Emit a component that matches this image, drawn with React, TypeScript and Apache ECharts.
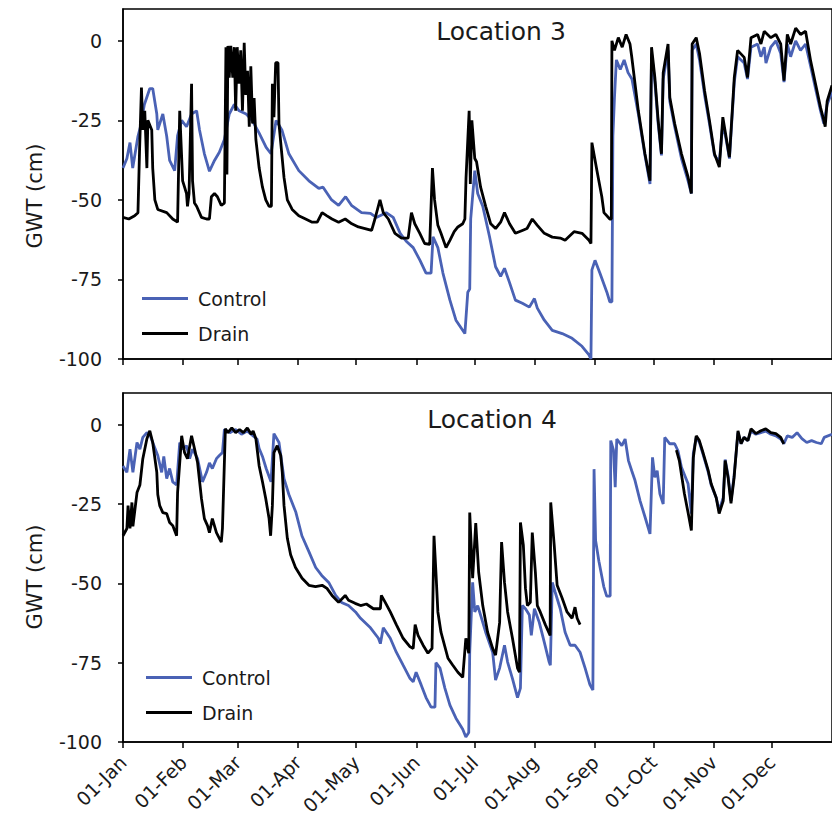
import React, { useEffect, useRef } from 'react';
import * as echarts from 'echarts';

const monthDays = [0, 31, 59, 90, 120, 151, 181, 212, 243, 273, 304, 334];
const monthLabels = ['01-Jan', '01-Feb', '01-Mar', '01-Apr', '01-May', '01-Jun', '01-Jul', '01-Aug', '01-Sep', '01-Oct', '01-Nov', '01-Dec'];
const yTicks = [-100, -75, -50, -25, 0];
const panelTitles = ['Location 3', 'Location 4'];
const seriesNames = ['Control', 'Drain'];
const yAxisTitle = 'GWT (cm)';

const loc3Control = [
  [0, -40], [2, -37], [3.6, -32], [5, -40], [7.7, -30], [9, -27], [11, -20], [13.8, -15], [15.3, -15], [17.4, -23], [17.9, -28],
  [20.5, -23], [22.5, -30], [24, -37.6], [26.6, -40.8], [28.1, -29.8], [30.2, -25], [32.7, -27], [35.3, -23], [37.9, -22], [39.4, -28],
  [41.9, -35.5], [44.5, -41], [47.1, -37.6], [49.6, -35], [52.2, -31], [54.7, -23], [57.3, -20], [59.8, -22], [63.4, -23], [66.5, -25],
  [70.1, -29], [73.7, -33.5], [76.2, -35.5], [78.8, -25], [81.8, -28], [85.4, -35.5], [90.5, -40.8], [95.7, -44], [100.8, -46.4],
  [103, -46], [107.4, -50], [111, -51.7], [114.6, -49], [117.6, -51.7], [122.8, -54], [127.4, -54.2], [130.4, -55.5], [135.5, -54],
  [139.1, -55.5], [142.7, -60.5], [145.8, -63], [149.4, -65], [152.9, -69], [156, -73], [158.6, -73], [159.6, -61.6], [162.1, -65],
  [164.7, -73], [168.3, -81.5], [171.4, -87.8], [176, -92], [177.5, -79], [178.5, -78], [179, -56], [181.1, -40.8], [182.6, -48],
  [185.2, -52], [188.7, -61.6], [191.8, -71], [194.4, -74], [196.4, -71.5], [199, -76], [202, -81.5], [205.6, -82.5], [209.2, -83.7],
  [211.8, -81], [213.3, -84], [216.9, -87.8], [221, -91], [226.1, -92], [231.2, -93.5], [236.3, -96], [239.9, -98.7], [240.9, -100],
  [241.4, -72], [243, -69], [245.5, -73], [249.1, -79], [250.6, -82], [251.7, -82], [252.2, -30], [253, -18], [254, -6], [256, -9],
  [258, -6], [260, -10], [262, -12], [265.3, -23], [268.7, -36], [271.3, -45], [272.1, -4], [273.8, -13], [275.5, -26], [277.2, -36],
  [278.1, -12], [280.6, -3], [281.5, -19], [284, -27], [287.5, -37], [290.9, -44], [292.6, -48], [293, -3], [295.1, -1], [296.8, -6],
  [299.4, -17], [301.9, -26], [304.5, -36], [307, -38], [308.8, -26], [310.5, -31], [312.2, -37], [314.7, -13], [316.4, -5],
  [319.8, -7], [321.5, -12], [323.3, -2], [326.7, -1], [328.4, -5], [330.1, -2], [331, -7], [333.5, -2], [336.1, 0], [338.6, -4],
  [340.3, -13], [342, -1], [343.7, -5], [346.3, 0], [348.8, -3], [351.4, -1], [354, -8], [356.5, -15], [359.1, -22], [360.8, -26],
  [362.5, -20], [365, -16],
];

const loc3Drain = [
  [0, -55.5], [3, -56], [6, -55], [7.7, -54], [8.5, -35], [9.5, -14.7], [10.2, -28], [11.2, -22], [12.3, -40], [12.8, -25],
  [14.8, -28], [15.3, -40], [16.4, -50], [17.9, -53], [22.5, -54], [25.6, -56], [28.1, -57], [29.2, -22], [30.7, -44], [31.7, -46],
  [32.7, -48], [33.2, -52], [34, -48], [35.3, -13.5], [35.8, -44], [36.8, -51], [37.9, -52], [40.4, -55.5], [43, -56], [44.5, -56],
  [45.5, -49], [47.1, -48], [48.6, -49], [50.6, -51.7], [52.2, -51], [53, -2], [53.5, -42], [54, -1.6], [54.7, -11.6], [55.5, -1.6],
  [56.5, -11.6], [57.3, -2], [58, -22], [58.8, -2], [59.8, -13.5], [60.6, -3], [61.5, -22], [62.4, -0.6], [63.2, -17], [64.1, -9.4],
  [65, -27], [65.8, -8], [66.7, -26], [67.5, -18], [68.4, -31], [70.1, -40], [71.8, -46], [73.5, -50], [75.2, -52], [76.4, -52],
  [76.9, -13.5], [77.7, -24], [78.6, -6.9], [79.8, -6.9], [80.3, -26], [81.2, -32], [82.9, -43], [84.6, -50], [87.1, -53],
  [90.5, -55], [94, -56], [97.4, -57], [100, -57], [102.5, -54], [105, -55], [107.6, -56], [111, -57], [114.4, -56], [117.8, -57.5],
  [121.2, -58.5], [124.6, -59], [128, -59.6], [129.7, -56], [132.3, -50], [134, -54], [136.6, -56], [140, -60.5], [143.4, -62],
  [146.8, -62], [148.5, -54], [150.2, -57.5], [152.8, -60.5], [155.3, -63.7], [157.9, -64], [159.3, -40], [160.4, -50], [162.1, -58],
  [163.7, -60.5], [166.3, -65], [168.3, -62.7], [170.5, -60], [172.4, -58.5], [174.9, -57.5], [176, -56], [176.6, -43], [178.2, -22],
  [178.8, -45], [179.6, -25], [181.1, -37], [182, -38], [184.1, -46], [186.7, -52], [189.3, -57.5], [191.8, -59], [194.4, -57],
  [196.4, -54], [199, -57.5], [202, -60.5], [205.6, -59.6], [208, -59], [210.7, -56], [213.3, -58], [216.9, -60.5], [221, -61.7],
  [225.1, -62], [227.6, -62.7], [232.2, -60], [236.3, -60.5], [239.9, -62.7], [240.9, -63.7], [241.4, -32], [244, -40.8],
  [246.5, -49], [247.6, -54], [250.6, -56], [251.4, -56], [251.7, 0], [253, -3], [255, 1], [257, -2], [259, 2], [261, -1],
  [261.9, -5], [265.3, -22], [268.7, -35.5], [271.3, -44], [272.1, -2], [273.8, -11.5], [275.5, -25], [277.2, -35.5], [278.1, -10],
  [280.6, -1], [281.5, -17.8], [284, -26], [287.5, -35.5], [290.9, -42.8], [292.6, -48], [293, -1], [295.1, 1], [296.8, -4],
  [299.4, -15.7], [301.9, -25], [304.5, -35.5], [307, -39.7], [308.8, -24], [310.5, -30.3], [312.2, -36.6], [314.7, -11.5],
  [316.4, -3], [319.8, -5.2], [321.5, -11.5], [323.3, 1], [326.7, 2], [328.4, -1], [330.1, 3], [333.5, 1], [336.1, 2], [338.6, -1],
  [340.3, -12.5], [342, 2], [343.7, -1], [346.3, 4], [348.8, 2], [351.4, 3], [354, -6.3], [356.5, -13.5], [359.1, -21], [360.8, -25],
  [361.5, -27], [362.5, -19], [365, -14],
];

const loc4Control = [
  [0, -13], [2, -15], [3.6, -7.7], [5.1, -15], [7.2, -5.6], [8.7, -7.7], [10.2, -4], [12.3, -2.5], [13.8, -3], [15.3, -5.6],
  [17.9, -9.7], [19.9, -15], [21, -10], [22.5, -17], [24, -13.8], [25.6, -18], [27.6, -19], [29.2, -5.6], [30.7, -7.7], [32.7, -6.6],
  [34.3, -10.7], [35.8, -7.7], [38.4, -10.7], [40.9, -18], [43, -15], [44.5, -12], [46, -13.8], [48.1, -10.7], [49.6, -9.7],
  [51.2, -8.8], [52.2, -1.5], [55, -2.5], [58, -1.5], [61, -3], [64, -2], [67, -3.5], [69, -4.5], [70.1, -7.5], [71.8, -10],
  [73.7, -13.8], [76.2, -18], [77.7, -2.8], [80.3, -5.6], [82.9, -17], [85.4, -22], [89, -27.6], [92.1, -35], [95.7, -40],
  [99.2, -45], [102.3, -47.5], [105.9, -49.7], [109.5, -53.8], [112.5, -56], [116.1, -57], [119.7, -59], [122.3, -61], [127.4, -64],
  [131.5, -67.3], [132.5, -69], [134, -64], [137.6, -67.3], [140.7, -71.7], [144.2, -75.8], [147.8, -80], [149.4, -81], [150.9, -78],
  [153.5, -82], [156, -86], [158.6, -89], [160.6, -89], [161.1, -75], [163.2, -76.7], [165.7, -83], [168.3, -88.4], [171.4, -92.5],
  [174.9, -96], [176.5, -98.4], [178, -97], [178.5, -71.7], [180, -49.7], [181.1, -59], [182.6, -57], [184.1, -60], [186.7, -65.4],
  [190.3, -71.7], [191.8, -80.5], [193.9, -76.7], [196.4, -69.5], [198, -74.8], [200.5, -80], [203.1, -86], [204.6, -83],
  [205.6, -57], [207.2, -58], [209.2, -60], [210.2, -66.4], [211.8, -58], [214.3, -62.3], [216.9, -68.6], [219.4, -74.8],
  [220, -75.8], [221, -49.7], [222.5, -52.8], [225.1, -58], [227.6, -65.4], [230.2, -69.5], [232.7, -69.5], [235.3, -71.7],
  [237.9, -76.7], [240.4, -82], [241.9, -83.6], [242.5, -14], [243.3, -36.5], [245, -43], [247.5, -51], [249, -54], [250.8, -54],
  [251.1, -5], [252.5, -8], [253.4, -19.7], [254.2, -4.5], [256.8, -6.6], [258.5, -4.5], [260.2, -11.3], [261.9, -14.5],
  [263.6, -17.6], [266.2, -24], [268.7, -29], [271.3, -34.4], [272.6, -10.3], [273.8, -16.6], [275, -14.5], [276.4, -21.8],
  [278.1, -25], [278.9, -4], [281.5, -6], [284, -6], [285.7, -8.2], [287.5, -13.4], [290.9, -18.6], [292.6, -28], [293.6, -9],
  [295.1, -4], [296.7, -5.5], [298.7, -9.5], [301.3, -15], [302.8, -19], [305.4, -23], [306.9, -27], [309, -23], [310, -11],
  [311.5, -16], [313, -24], [314.6, -16], [316.6, -2.5], [318.2, -6], [319.7, -4], [321.7, -5], [323.3, -2], [325.8, -3],
  [328.4, -2.5], [330.9, -2], [333.5, -3], [336.1, -3.5], [338.6, -4.5], [340.2, -6], [342, -3.5], [344.5, -4], [347, -2.5],
  [349.5, -4.4], [352, -5.6], [354.5, -5], [357, -5.6], [359.5, -6], [361, -4], [365, -3],
];

const loc4Drain = [
  [0, -35], [2, -32.7], [2.6, -25.5], [3.6, -32.7], [4.6, -24.5], [5.1, -32], [7.2, -21.4], [8.7, -19], [10.2, -10.7], [12.3, -4.4],
  [13.8, -1.9], [15.3, -5.6], [17.4, -15], [17.9, -22], [18.9, -25.5], [20.5, -27.7], [22.5, -28], [24, -30.8], [25.6, -31.8],
  [27.6, -35], [28.1, -21.4], [30.2, -3.5], [31.7, -8.8], [33.2, -10.7], [35.3, -3.5], [36.8, -7.5], [38.4, -12], [40.4, -23.3],
  [41.9, -29.6], [43.5, -31.8], [44.5, -34], [46, -29.6], [48.1, -34], [49.6, -35.8], [50.6, -37], [51.2, -32.7], [52.7, -1.3],
  [54, -2.5], [56, -1], [58, -2.5], [60, -1.5], [62, -2.5], [64, -1], [66, -3], [67, -2], [68.4, -4.4], [70.1, -13], [71.8, -18],
  [73.5, -23.3], [75.2, -29.6], [76, -35], [76.9, -25.5], [77.7, -8.8], [79.4, -6.6], [81.2, -9.7], [82, -15], [82.9, -25.5],
  [84.6, -35.8], [86.3, -41], [88.8, -45], [92.2, -48.4], [95.7, -50.6], [99.1, -51], [102.5, -50.6], [105, -51.6], [107.6, -53.8],
  [111, -56], [114.4, -53.8], [116.1, -55.3], [119.5, -56.3], [122.3, -57], [125.3, -56.5], [128.9, -58], [132.5, -58], [133, -53.8],
  [135, -56], [137.6, -59], [140.7, -63], [144.2, -67.3], [147.8, -70], [149.4, -70.5], [150.4, -63], [151.9, -66.4], [154.5, -69.5],
  [157, -72], [159.1, -70.5], [160.1, -35], [161.1, -46.5], [162.1, -59], [163.7, -65.4], [167.3, -73.6], [169.8, -75.8],
  [172.4, -78], [174.9, -79.6], [176.5, -67.3], [178, -72], [178.5, -27.7], [180, -48.4], [181.6, -31], [183.1, -46.5],
  [185.2, -57], [187.7, -65.4], [190.3, -70.5], [191.8, -72.6], [193.9, -62.3], [194.9, -37], [196.4, -49.7], [198, -59],
  [200.5, -67.3], [203.1, -76.7], [204.1, -78], [204.6, -30.8], [206.1, -38], [207.2, -51.6], [208.2, -57], [209.7, -56],
  [210.7, -34], [212.3, -46.5], [213.3, -57], [214.8, -59], [217.4, -63], [219.9, -66.4], [220.2, -24.5], [222, -38], [223.5, -50.6],
  [226.1, -54.7], [228.6, -59], [231.2, -61], [232.7, -57.5], [233.8, -61], [235.3, -63], [236, null],
  [284.9, -8], [286.4, -11.3], [289, -21.7], [291, -28], [292.6, -33.3], [293.6, -10.4], [295.1, -3.5], [296.7, -5], [298.7, -9],
  [301.3, -14.5], [302.8, -18.6], [305.4, -23], [306.9, -28], [309, -24], [310, -11.3], [311.5, -16.7], [313, -24.8], [314.6, -16.7],
  [316.6, -1.9], [318.2, -6], [319.7, -4], [321.7, -5], [323.3, -1.3], [325.8, -2.8], [328.4, -1.9], [330.9, -1.3], [333.5, -2.5],
  [336.1, -2.8], [338.6, -4], [340.2, -6],
];

const panelData = [
  [loc3Control, loc3Drain],
  [loc4Control, loc4Drain],
];

export default function App() {
  const ref = useRef<HTMLDivElement>(null);

  useEffect(() => {
    if (!ref.current) return;
    const chart = echarts.init(ref.current, null, { renderer: 'svg' });
    const FONT = 'DejaVu Sans';
    const TXT = '#1a1a1a';
    const BLUE = '#4a62b5';
    const colors = [BLUE, '#000000'];
    const grids = [
      { left: 123, top: 9, width: 714, height: 350 },
      { left: 123, top: 393, width: 714, height: 349 },
    ];
    const axisLineStyle = { color: '#000', width: 1.5 };

    const option: any = {
      animation: false,
      backgroundColor: '#ffffff',
      grid: grids.map((g) => ({ ...g, show: true, borderColor: '#000', borderWidth: 1.5, backgroundColor: 'transparent' })),
      xAxis: grids.map((_, i) => ({
        type: 'value',
        gridIndex: i,
        min: 0,
        max: 365,
        axisLine: { show: true, onZero: false, lineStyle: axisLineStyle },
        axisTick: { show: true, length: 6, customValues: monthDays, lineStyle: axisLineStyle },
        axisLabel: {
          show: i === 1,
          customValues: monthDays,
          rotate: 45,
          margin: 17,
          fontSize: 19,
          fontFamily: FONT,
          color: TXT,
          formatter: (v: number) => {
            const k = monthDays.indexOf(Math.round(v));
            return k >= 0 ? monthLabels[k] : '';
          },
        },
        splitLine: { show: false },
      })),
      yAxis: grids.map((_, i) => ({
        type: 'value',
        gridIndex: i,
        min: -100,
        max: 10,
        interval: 25,
        axisLine: { show: true, lineStyle: axisLineStyle },
        axisTick: { show: true, length: 5, customValues: yTicks, lineStyle: axisLineStyle },
        axisLabel: { customValues: yTicks, margin: 21, fontSize: 19, fontFamily: FONT, color: TXT },
        splitLine: { show: false },
      })),
      legend: [
        { top: 289, left: 142 },
        { top: 668, left: 146 },
      ].map((p) => ({
        ...p,
        padding: 0,
        data: seriesNames,
        orient: 'vertical',
        icon: 'rect',
        itemWidth: 46,
        itemHeight: 3,
        itemGap: 16,
        selectedMode: false,
        textStyle: { fontSize: 19, fontFamily: FONT, color: TXT, padding: [0, 0, 0, 5] },
      })),
      graphic: [
        ...panelTitles.map((t, i) => ({
          type: 'text',
          x: i === 0 ? 501 : 492,
          y: i === 0 ? 31 : 419,
          style: { text: t, fontSize: 25, fontFamily: FONT, fill: TXT, align: 'center', verticalAlign: 'middle' },
        })),
        ...[196, 577].map((cy) => ({
          type: 'text',
          x: 35,
          y: cy,
          rotation: Math.PI / 2,
          style: { text: yAxisTitle, fontSize: 21, fontFamily: FONT, fill: TXT, align: 'center', verticalAlign: 'middle' },
        })),
      ],
      series: panelData.flatMap((pair, i) =>
        pair.map((d, j) => ({
          type: 'line',
          name: seriesNames[j],
          xAxisIndex: i,
          yAxisIndex: i,
          data: d,
          symbol: 'none',
          showSymbol: false,
          connectNulls: false,
          color: colors[j],
          lineStyle: { width: 2.8, color: colors[j] },
          z: 2 + j,
        }))
      ),
    };
    chart.setOption(option);
    return () => chart.dispose();
  }, []);

  return <div ref={ref} style={{ position: 'absolute', left: 0, top: 0, width: 832, height: 827 }} />;
}
